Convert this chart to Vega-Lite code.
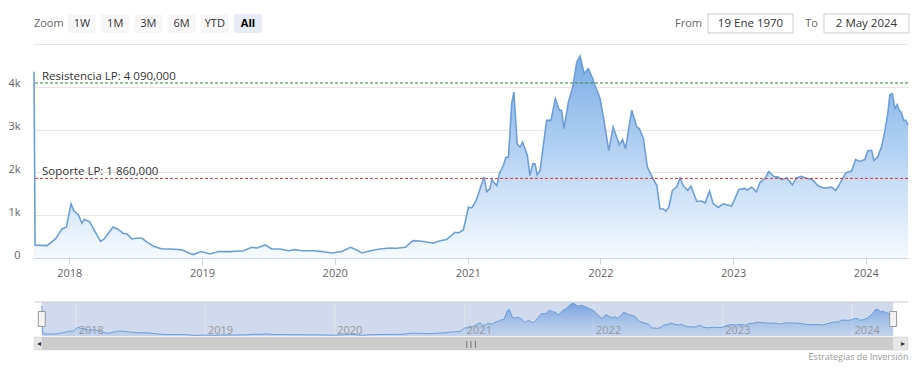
{
  "$schema": "https://vega.github.io/schema/vega-lite/v6.json",
  "background": "white",
  "padding": {"left": 0, "top": 13, "right": 0, "bottom": 0},
  "config": {"view": {"stroke": null}, "font": "Open Sans"},
  "spacing": 10,
  "resolve": {"scale": {"x": "independent", "y": "independent", "color": "independent"}},
  "datasets": {
    "series": [
      {"date":"2017-09-26","value":4350},{"date":"2017-09-29","value":300},{"date":"2017-11-01","value":290},{"date":"2017-11-24","value":445},
      {"date":"2017-12-12","value":680},{"date":"2017-12-24","value":720},{"date":"2018-01-06","value":1265},{"date":"2018-01-13","value":1110},
      {"date":"2018-01-26","value":1005},{"date":"2018-02-05","value":810},{"date":"2018-02-11","value":900},{"date":"2018-02-26","value":850},
      {"date":"2018-03-13","value":615},{"date":"2018-03-28","value":390},{"date":"2018-04-07","value":445},{"date":"2018-05-01","value":720},
      {"date":"2018-05-14","value":680},{"date":"2018-05-29","value":580},{"date":"2018-06-09","value":560},{"date":"2018-06-22","value":445},
      {"date":"2018-07-04","value":460},{"date":"2018-07-20","value":460},{"date":"2018-08-03","value":370},{"date":"2018-08-21","value":275},
      {"date":"2018-09-13","value":210},{"date":"2018-10-06","value":210},{"date":"2018-11-07","value":190},{"date":"2018-11-25","value":117},
      {"date":"2018-12-09","value":80},{"date":"2018-12-29","value":150},{"date":"2019-01-24","value":95},{"date":"2019-02-15","value":150},
      {"date":"2019-03-20","value":150},{"date":"2019-04-25","value":170},{"date":"2019-05-18","value":250},{"date":"2019-06-01","value":235},
      {"date":"2019-06-24","value":305},{"date":"2019-07-12","value":210},{"date":"2019-08-04","value":210},{"date":"2019-08-27","value":170},
      {"date":"2019-09-14","value":195},{"date":"2019-10-03","value":170},{"date":"2019-11-04","value":170},{"date":"2019-11-27","value":150},
      {"date":"2019-12-24","value":117},{"date":"2020-01-21","value":150},{"date":"2020-02-14","value":250},{"date":"2020-02-29","value":195},
      {"date":"2020-03-16","value":117},{"date":"2020-04-08","value":170},{"date":"2020-05-05","value":210},{"date":"2020-05-31","value":235},
      {"date":"2020-06-20","value":227},{"date":"2020-07-13","value":250},{"date":"2020-08-04","value":405},{"date":"2020-08-28","value":390},
      {"date":"2020-09-28","value":345},{"date":"2020-10-17","value":405},{"date":"2020-11-04","value":430},{"date":"2020-11-27","value":600},
      {"date":"2020-12-06","value":585},{"date":"2020-12-20","value":655},{"date":"2021-01-03","value":1185},{"date":"2021-01-12","value":1170},
      {"date":"2021-01-24","value":1340},{"date":"2021-02-04","value":1615},{"date":"2021-02-15","value":1890},{"date":"2021-02-22","value":1550},
      {"date":"2021-03-03","value":1615},{"date":"2021-03-08","value":1830},{"date":"2021-03-22","value":1690},{"date":"2021-03-29","value":1965},
      {"date":"2021-04-09","value":2160},{"date":"2021-04-16","value":2355},{"date":"2021-04-23","value":2355},{"date":"2021-05-02","value":3605},
      {"date":"2021-05-08","value":3880},{"date":"2021-05-17","value":2670},{"date":"2021-05-25","value":2590},{"date":"2021-06-01","value":2710},
      {"date":"2021-06-14","value":2395},{"date":"2021-06-21","value":1925},{"date":"2021-06-29","value":2200},{"date":"2021-07-05","value":2200},
      {"date":"2021-07-11","value":1945},{"date":"2021-07-19","value":2045},{"date":"2021-08-06","value":3215},{"date":"2021-08-18","value":3215},
      {"date":"2021-08-30","value":3725},{"date":"2021-09-10","value":3450},{"date":"2021-09-16","value":3450},{"date":"2021-09-23","value":3020},
      {"date":"2021-10-05","value":3645},{"date":"2021-10-17","value":3995},{"date":"2021-10-28","value":4580},{"date":"2021-11-06","value":4720},
      {"date":"2021-11-17","value":4310},{"date":"2021-11-29","value":4425},{"date":"2021-12-11","value":4190},{"date":"2021-12-17","value":4035},
      {"date":"2021-12-31","value":3725},{"date":"2022-01-09","value":3295},{"date":"2022-01-24","value":2510},{"date":"2022-02-05","value":3060},
      {"date":"2022-02-22","value":2645},{"date":"2022-03-03","value":2765},{"date":"2022-03-11","value":2550},{"date":"2022-03-28","value":3450},
      {"date":"2022-04-11","value":3060},{"date":"2022-04-18","value":3020},{"date":"2022-04-29","value":2800},{"date":"2022-05-10","value":2125},
      {"date":"2022-05-26","value":1850},{"date":"2022-06-05","value":1700},{"date":"2022-06-14","value":1150},{"date":"2022-06-23","value":1145},
      {"date":"2022-06-30","value":1095},{"date":"2022-07-08","value":1185},{"date":"2022-07-18","value":1575},{"date":"2022-07-30","value":1670},
      {"date":"2022-08-08","value":1868},{"date":"2022-08-17","value":1690},{"date":"2022-08-29","value":1575},{"date":"2022-09-07","value":1680},
      {"date":"2022-09-23","value":1320},{"date":"2022-10-06","value":1330},{"date":"2022-10-16","value":1285},{"date":"2022-10-28","value":1565},
      {"date":"2022-11-07","value":1270},{"date":"2022-11-21","value":1180},{"date":"2022-12-05","value":1265},{"date":"2022-12-28","value":1215},
      {"date":"2023-01-17","value":1600},{"date":"2023-02-02","value":1625},{"date":"2023-02-09","value":1590},{"date":"2023-02-21","value":1655},
      {"date":"2023-03-06","value":1545},{"date":"2023-03-16","value":1770},{"date":"2023-03-29","value":1850},{"date":"2023-04-09","value":2020},
      {"date":"2023-04-23","value":1905},{"date":"2023-05-05","value":1890},{"date":"2023-05-14","value":1830},{"date":"2023-05-29","value":1870},
      {"date":"2023-06-13","value":1710},{"date":"2023-06-24","value":1870},{"date":"2023-07-08","value":1910},{"date":"2023-07-22","value":1865},
      {"date":"2023-08-07","value":1830},{"date":"2023-08-23","value":1680},{"date":"2023-09-10","value":1630},{"date":"2023-09-29","value":1655},
      {"date":"2023-10-10","value":1575},{"date":"2023-10-21","value":1730},{"date":"2023-11-07","value":1990},{"date":"2023-11-23","value":2030},
      {"date":"2023-12-04","value":2300},{"date":"2023-12-15","value":2255},{"date":"2023-12-29","value":2300},{"date":"2024-01-07","value":2510},
      {"date":"2024-01-17","value":2510},{"date":"2024-01-23","value":2280},{"date":"2024-02-02","value":2355},{"date":"2024-02-13","value":2590},
      {"date":"2024-02-22","value":2945},{"date":"2024-03-02","value":3410},{"date":"2024-03-07","value":3815},{"date":"2024-03-14","value":3840},
      {"date":"2024-03-21","value":3490},{"date":"2024-03-27","value":3585},{"date":"2024-04-02","value":3450},{"date":"2024-04-08","value":3395},
      {"date":"2024-04-14","value":3215},{"date":"2024-04-20","value":3215},{"date":"2024-04-26","value":3100}
    ],
    "levels": [
      {"name":"Resistencia LP","value":4090,"label":"Resistencia LP: 4 090,000"},
      {"name":"Soporte LP","value":1860,"label":"Soporte LP: 1 860,000"}
    ],
    "buttons": [
      {"item":"Zoom","kind":"label"},{"item":"1W","kind":"button"},{"item":"1M","kind":"button"},{"item":"3M","kind":"button"},
      {"item":"6M","kind":"button"},{"item":"YTD","kind":"button"},{"item":"All","kind":"selected"}
    ],
    "range": [{"label":"From","date":"19 Ene 1970"},{"label":"To","date":"2 May 2024"}],
    "years": [{"year":"2018-01-01"},{"year":"2019-01-01"},{"year":"2020-01-01"},{"year":"2021-01-01"},{"year":"2022-01-01"},{"year":"2023-01-01"},{"year":"2024-01-01"}]
  },
  "vconcat": [
    {
      "width": 874, "height": 19,
      "resolve": {"scale": {"x": "independent"}},
      "layer": [
        {
          "data": {"name": "buttons"},
          "encoding": {"x": {"field": "item", "type": "nominal", "sort": null, "axis": null,
            "scale": {"domain": ["Zoom","1W","1M","3M","6M","YTD","All"], "range": [0.8, 228], "paddingInner": 0.157, "paddingOuter": 0}}},
          "layer": [
            {"transform": [{"filter": "datum.kind != 'label'"}], "mark": {"type": "rect", "cornerRadius": 2},
             "encoding": {"color": {"field": "kind", "type": "nominal", "legend": null, "scale": {"domain": ["button","selected"], "range": ["#f7f7f7","#e6ebf5"]}}}},
            {"transform": [{"filter": "datum.kind == 'label'"}], "mark": {"type": "text", "fontSize": 11, "color": "#666666"}, "encoding": {"text": {"field": "item"}}},
            {"transform": [{"filter": "datum.kind == 'button'"}], "mark": {"type": "text", "fontSize": 11, "color": "#333333"}, "encoding": {"text": {"field": "item"}}},
            {"transform": [{"filter": "datum.kind == 'selected'"}], "mark": {"type": "text", "fontSize": 11, "color": "#000000", "fontWeight": "bold"}, "encoding": {"text": {"field": "item"}}}
          ]
        },
        {
          "data": {"name": "range"},
          "encoding": {"x": {"field": "date", "type": "nominal", "sort": null, "axis": null,
            "scale": {"domain": ["19 Ene 1970","2 May 2024"], "range": [674, 875], "paddingInner": 0.267, "paddingOuter": 0}}},
          "layer": [
            {"mark": {"type": "rect", "fill": "#ffffff", "stroke": "#cccccc", "strokeWidth": 1}},
            {"mark": {"type": "text", "fontSize": 11.5, "color": "#333333"}, "encoding": {"text": {"field": "date"}}},
            {"mark": {"type": "text", "fontSize": 11, "color": "#666666", "align": "right", "dx": -6},
             "encoding": {"x": {"field": "date", "type": "nominal", "sort": null, "axis": null, "bandPosition": 0,
               "scale": {"domain": ["19 Ene 1970","2 May 2024"], "range": [674, 875], "paddingInner": 0.267, "paddingOuter": 0}},
               "text": {"field": "label"}}}
          ]
        }
      ]
    },
    {
      "width": 874, "height": 214,
      "layer": [
        {
          "data": {"name": "series"},
          "mark": {"type": "area", "color": {"gradient": "linear", "x1": 0, "y1": 0, "x2": 0, "y2": 1,
            "stops": [{"offset": 0, "color": "#7aade6"}, {"offset": 1, "color": "#f6faff"}]}},
          "encoding": {
            "x": {"field": "date", "type": "temporal",
              "scale": {"type": "utc", "domain": [{"year":2017,"month":9,"date":26,"utc":true},{"year":2024,"month":4,"date":26,"utc":true}]},
              "axis": {"title": null, "format": "%Y", "grid": false, "domainColor": "#ccd6eb", "tickColor": "#ccd6eb", "tickSize": 6,
                "labelPadding": 3, "labelColor": "#666666", "labelFontSize": 11, "minExtent": 33, "maxExtent": 33, "labelFlush": false,
                "values": [{"year":2018,"month":1,"date":1,"utc":true},{"year":2019,"month":1,"date":1,"utc":true},{"year":2020,"month":1,"date":1,"utc":true},
                  {"year":2021,"month":1,"date":1,"utc":true},{"year":2022,"month":1,"date":1,"utc":true},{"year":2023,"month":1,"date":1,"utc":true},{"year":2024,"month":1,"date":1,"utc":true}]}},
            "y": {"field": "value", "type": "quantitative", "scale": {"domain": [0, 5000], "nice": false},
              "axis": {"title": null, "values": [0,1000,2000,3000,4000,5000],
                "labelExpr": "datum.value == 5000 ? '' : (datum.value == 0 ? '0' : (datum.value/1000) + 'k')",
                "grid": true, "gridColor": "#e6e6e6", "domain": false, "ticks": false, "labelPadding": 14, "minExtent": 34, "maxExtent": 34,
                "labelColor": "#666666", "labelFontSize": 11, "labelBaseline": "alphabetic"}}
          }
        },
        {
          "data": {"name": "series"},
          "mark": {"type": "line", "color": "#6d9fd7", "strokeWidth": 1.6},
          "encoding": {
            "x": {"field": "date", "type": "temporal"},
            "y": {"field": "value", "type": "quantitative"}
          }
        },
        {
          "data": {"name": "levels"},
          "mark": {"type": "rule", "strokeDash": [3, 2], "strokeWidth": 1},
          "encoding": {
            "y": {"field": "value", "type": "quantitative"},
            "color": {"field": "name", "type": "nominal", "legend": null, "scale": {"domain": ["Resistencia LP","Soporte LP"], "range": ["#2f8a35","#dd3535"]}}
          }
        },
        {
          "data": {"name": "levels"},
          "mark": {"type": "text", "align": "left", "baseline": "alphabetic", "dx": 8, "dy": -3, "fontSize": 11.5, "color": "#333333"},
          "encoding": {
            "x": {"datum": {"year":2017,"month":9,"date":26,"utc":true}, "type": "temporal"},
            "y": {"field": "value", "type": "quantitative"},
            "text": {"field": "label"}
          }
        }
      ]
    },
    {
      "width": 874, "height": 48,
      "title": {"text": "Estrategias de Inversión", "orient": "bottom", "anchor": "end", "fontSize": 9, "fontWeight": "normal", "color": "#999999", "offset": 3, "baseline": "top"},
      "layer": [
        {
          "data": {"values": [{}]},
          "mark": {"type": "rect", "fill": "#6685c2", "fillOpacity": 0.3},
          "encoding": {
            "x": {"datum": {"year":2017,"month":9,"date":26,"utc":true}, "type": "temporal",
              "scale": {"type": "utc", "domain": [{"year":2017,"month":9,"date":4,"utc":true},{"year":2024,"month":6,"date":7,"utc":true}]},
              "axis": {"title": null, "format": "%Y", "grid": false, "domain": false, "ticks": false, "labelAlign": "left", "labelBaseline": "top",
                "labelPadding": -26, "labelOffset": 2, "labelColor": "#999999", "labelFontSize": 11, "labelFlush": false, "labelOverlap": false,
                "labelBound": false, "zindex": 1, "minExtent": 0, "maxExtent": 0,
                "values": [{"year":2018,"month":1,"date":1,"utc":true},{"year":2019,"month":1,"date":1,"utc":true},{"year":2020,"month":1,"date":1,"utc":true},
                  {"year":2021,"month":1,"date":1,"utc":true},{"year":2022,"month":1,"date":1,"utc":true},{"year":2023,"month":1,"date":1,"utc":true},{"year":2024,"month":1,"date":1,"utc":true}]}},
            "x2": {"datum": {"year":2024,"month":4,"date":26,"utc":true}},
            "y": {"datum": 0, "type": "quantitative", "scale": {"domain": [-2018, 4900], "nice": false, "zero": false}, "axis": null},
            "y2": {"datum": 4900}
          }
        },
        {
          "data": {"name": "years"},
          "mark": {"type": "rule", "color": "#e6e6e6", "strokeWidth": 1},
          "encoding": {
            "x": {"field": "year", "type": "temporal"},
            "y": {"datum": 0, "type": "quantitative"},
            "y2": {"datum": 4900}
          }
        },
        {
          "data": {"name": "series"},
          "mark": {"type": "area", "color": {"gradient": "linear", "x1": 0, "y1": 0, "x2": 0, "y2": 1,
            "stops": [{"offset": 0, "color": "rgba(90,145,220,0.75)"}, {"offset": 1, "color": "rgba(120,170,230,0.15)"}]}},
          "encoding": {
            "x": {"field": "date", "type": "temporal"},
            "y": {"field": "value", "type": "quantitative"}
          }
        },
        {
          "data": {"name": "series"},
          "mark": {"type": "line", "color": "#6d9fd7", "strokeWidth": 1},
          "encoding": {
            "x": {"field": "date", "type": "temporal"},
            "y": {"field": "value", "type": "quantitative"}
          }
        },
        {
          "data": {"values": [{}]},
          "mark": {"type": "rule", "color": "#cccccc", "strokeWidth": 1},
          "encoding": {
            "x": {"datum": {"year":2017,"month":9,"date":4,"utc":true}, "type": "temporal"},
            "x2": {"datum": {"year":2024,"month":6,"date":7,"utc":true}},
            "y": {"datum": 4900, "type": "quantitative"}
          }
        },
        {
          "data": {"values": [{}]},
          "mark": {"type": "rect", "fill": "#e6e6e6", "stroke": "#cccccc", "strokeWidth": 0.5},
          "encoding": {
            "x": {"datum": {"year":2017,"month":9,"date":4,"utc":true}, "type": "temporal"},
            "x2": {"datum": {"year":2024,"month":6,"date":7,"utc":true}},
            "y": {"datum": -2018, "type": "quantitative"},
            "y2": {"datum": -150}
          }
        },
        {
          "data": {"values": [{}]},
          "mark": {"type": "rect", "fill": "#cccccc"},
          "encoding": {
            "x": {"datum": {"year":2017,"month":9,"date":26,"utc":true}, "type": "temporal"},
            "x2": {"datum": {"year":2024,"month":4,"date":26,"utc":true}},
            "y": {"datum": -2018, "type": "quantitative"},
            "y2": {"datum": -150}
          }
        },
        {
          "data": {"values": [{}]},
          "mark": {"type": "text", "text": "|||", "fontSize": 8, "color": "#333333"},
          "encoding": {
            "x": {"datum": {"year":2021,"month":1,"date":20,"utc":true}, "type": "temporal"},
            "y": {"datum": -1084, "type": "quantitative"}
          }
        },
        {
          "data": {"values": [{}]},
          "mark": {"type": "text", "text": "◂", "fontSize": 8, "color": "#333333", "dx": 5},
          "encoding": {
            "x": {"datum": {"year":2017,"month":9,"date":4,"utc":true}, "type": "temporal"},
            "y": {"datum": -1084, "type": "quantitative"}
          }
        },
        {
          "data": {"values": [{}]},
          "mark": {"type": "text", "text": "▸", "fontSize": 8, "color": "#333333", "dx": -5},
          "encoding": {
            "x": {"datum": {"year":2024,"month":6,"date":7,"utc":true}, "type": "temporal"},
            "y": {"datum": -1084, "type": "quantitative"}
          }
        },
        {
          "data": {"values": [{}]},
          "mark": {"type": "rect", "width": 7, "height": 15, "fill": "#f2f2f2", "stroke": "#999999", "strokeWidth": 1},
          "encoding": {
            "x": {"datum": {"year":2017,"month":9,"date":26,"utc":true}, "type": "temporal"},
            "y": {"datum": 2450, "type": "quantitative"}
          }
        },
        {
          "data": {"values": [{}]},
          "mark": {"type": "rect", "width": 7, "height": 15, "fill": "#f2f2f2", "stroke": "#999999", "strokeWidth": 1},
          "encoding": {
            "x": {"datum": {"year":2024,"month":4,"date":26,"utc":true}, "type": "temporal"},
            "y": {"datum": 2450, "type": "quantitative"}
          }
        }
      ]
    }
  ]
}
